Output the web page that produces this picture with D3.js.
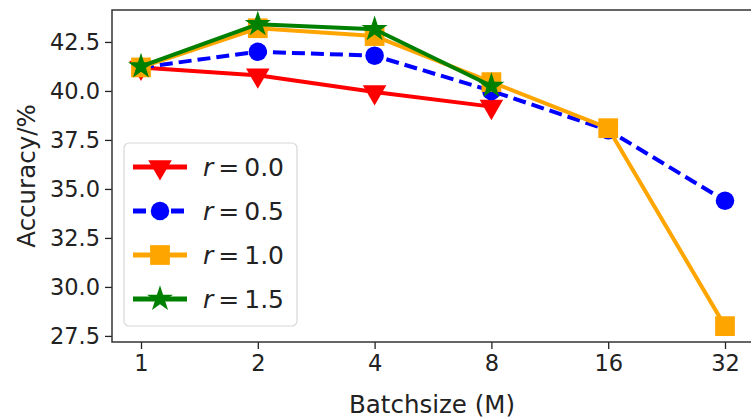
<!DOCTYPE html>
<html>
<head>
<meta charset="utf-8">
<script src="https://cdn.jsdelivr.net/npm/d3@7"></script>
<style>
  body { margin: 0; background: white; }
  svg { display: block; font-family: 'DejaVu Sans', sans-serif; }
</style>
</head>
<body>
<div id="chart-area"></div>
<script>
// Batchsize vs accuracy, four r values
const batchSizes = ['1', '2', '4', '8', '16', '32'];
const yTicks = [27.5, 30.0, 32.5, 35.0, 37.5, 40.0, 42.5];

const r00 = [41.2, 40.8, 39.95, 39.2];
const r05 = [41.2, 42.0, 41.8, 40.0, 38.0, 34.4];
const r10 = [41.2, 43.2, 42.8, 40.45, 38.1, 28.0];
const r15 = [41.25, 43.4, 43.15, 40.25];

const series = [
  { label: '0.0', values: r00, color: 'red', dash: null, marker: 'triangleDown', width: 4 },
  { label: '0.5', values: r05, color: 'blue', dash: '13,6', marker: 'circle', width: 4 },
  { label: '1.0', values: r10, color: 'orange', dash: null, marker: 'square', width: 4 },
  { label: '1.5', values: r15, color: 'green', dash: null, marker: 'star', width: 4 }
];

const width = 751;
const height = 419;
const plot = { left: 112, right: 754, top: 10, bottom: 342 };

const svg = d3.select('#chart-area')
  .append('svg')
  .attr('width', width)
  .attr('height', height);

// Scales
const x = d3.scalePoint()
  .domain(batchSizes)
  .range([141, 725]);

const y = d3.scaleLinear()
  .domain([27.19, 44.13])
  .range([plot.bottom, plot.top]);

// Clip to plot area
svg.append('clipPath').attr('id', 'clip')
  .append('rect')
  .attr('x', plot.left).attr('y', plot.top)
  .attr('width', plot.right - plot.left).attr('height', plot.bottom - plot.top);

// Axes
const xAxis = svg.append('g')
  .attr('transform', `translate(0, ${plot.bottom})`)
  .call(d3.axisBottom(x).tickSize(7).tickPadding(6));

const yAxis = svg.append('g')
  .attr('transform', `translate(${plot.left}, 0)`)
  .call(d3.axisLeft(y).tickValues(yTicks).tickFormat(d3.format('.1f')).tickSize(7).tickPadding(5));

[xAxis, yAxis].forEach((g) => {
  g.select('.domain').remove();
  g.selectAll('line').attr('stroke', '#222').attr('stroke-width', 1.3);
  g.selectAll('text')
    .attr('font-size', '22.5px')
    .attr('fill', '#222')
    .attr('font-family', 'DejaVu Sans, sans-serif');
});

// Spines
svg.append('rect')
  .attr('x', plot.left)
  .attr('y', plot.top)
  .attr('width', plot.right - plot.left)
  .attr('height', plot.bottom - plot.top)
  .attr('fill', 'none')
  .attr('stroke', '#333')
  .attr('stroke-width', 1.5);

// Labels
svg.append('text')
  .attr('x', 432)
  .attr('y', 413)
  .attr('text-anchor', 'middle')
  .attr('font-size', '24.5px')
  .attr('fill', '#222')
  .text('Batchsize (M)');

svg.append('text')
  .attr('transform', `translate(35, 176) rotate(-90)`)
  .attr('text-anchor', 'middle')
  .attr('font-size', '24.5px')
  .attr('fill', '#222')
  .text('Accuracy/%');

// Markers
const markerPath = {
  triangleDown: d3.symbol().type(d3.symbolTriangle).size(240),
  circle: d3.symbol().type(d3.symbolCircle).size(270),
  square: d3.symbol().type(d3.symbolSquare).size(390),
  star: d3.symbol().type(d3.symbolStar).size(210)
};

function drawMarker(g, s, cx, cy) {
  g.append('path')
    .attr('d', markerPath[s.marker]())
    .attr('transform', `translate(${cx}, ${cy})` + (s.marker === 'triangleDown' ? ' rotate(180)' : ''))
    .attr('fill', s.color);
}

const lineGen = d3.line()
  .x((d, i) => x(batchSizes[i]))
  .y((d) => y(d));

const dataGroup = svg.append('g').attr('clip-path', 'url(#clip)');

series.forEach((s) => {
  const g = dataGroup.append('g');
  g.append('path')
    .datum(s.values)
    .attr('d', lineGen)
    .attr('fill', 'none')
    .attr('stroke', s.color)
    .attr('stroke-width', s.width)
    .attr('stroke-dasharray', s.dash)
    .attr('stroke-linejoin', 'round');
  s.values.forEach((v, i) => drawMarker(g, s, x(batchSizes[i]), y(v)));
});

// Legend
const legend = svg.append('g').attr('transform', 'translate(124, 143)');

legend.append('rect')
  .attr('width', 173)
  .attr('height', 183)
  .attr('rx', 5)
  .attr('fill', 'white')
  .attr('fill-opacity', 0.85)
  .attr('stroke', '#d8d8d8')
  .attr('stroke-width', 1.2);

series.forEach((s, i) => {
  const row = legend.append('g')
    .attr('transform', `translate(0, ${24 + i * 44})`);

  row.append('line')
    .attr('x1', 9).attr('x2', 63)
    .attr('stroke', s.color)
    .attr('stroke-width', s.width + 1)
    .attr('stroke-dasharray', s.dash);

  drawMarker(row, s, 36, 0);

  const t = row.append('text')
    .attr('x', 79)
    .attr('y', 9)
    .attr('font-size', '25px')
    .attr('fill', '#222');
  t.append('tspan').attr('font-style', 'italic').text('r');
  t.append('tspan').attr('dx', 5).text('=');
  t.append('tspan').attr('dx', 5).text(s.label);
});
</script>
</body>
</html>
